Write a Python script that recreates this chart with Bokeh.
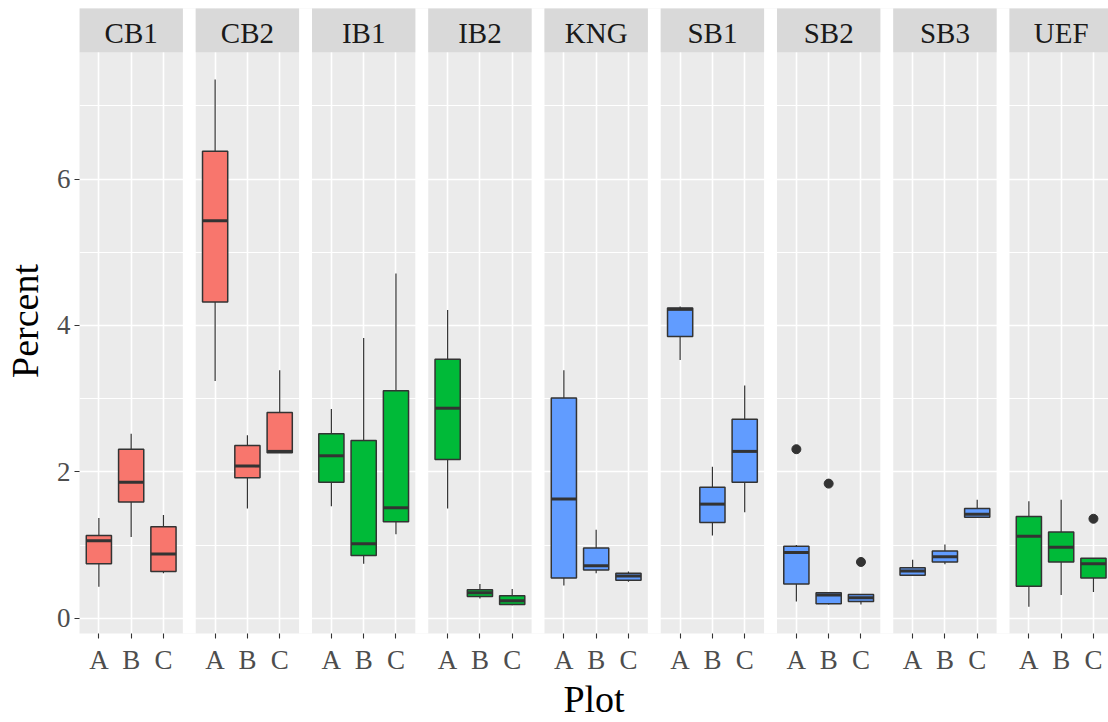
from bokeh.plotting import figure
from bokeh.models import Range1d, FixedTicker, ColumnDataSource
from bokeh.core.properties import value
from bokeh.embed import file_html
from bokeh.resources import INLINE

# ---------------- data ----------------
facets = ["CB1", "CB2", "IB1", "IB2", "KNG", "SB1", "SB2", "SB3", "UEF"]
groups = ["A", "B", "C"]
facet_type = ["CB", "CB", "IB", "IB", "SB", "SB", "SB", "SB", "IB"]

ymin = [0.43, 1.11, 0.615,  3.24, 1.50, 2.26,  1.53, 0.745, 1.15,
        1.50, 0.27, 0.18,  0.45, 0.615, 0.50,  3.53, 1.13, 1.45,
        0.23, 0.19, 0.19,  0.59, 0.74, 1.38,  0.16, 0.32, 0.36]
lower = [0.745, 1.59, 0.64,  4.32, 1.92, 2.26,  1.86, 0.86, 1.32,
         2.17, 0.30, 0.19,  0.55, 0.66, 0.52,  3.85, 1.31, 1.86,
         0.47, 0.20, 0.23,  0.59, 0.77, 1.38,  0.44, 0.77, 0.55]
middle = [1.06, 1.86, 0.88,  5.43, 2.08, 2.28,  2.22, 1.02, 1.51,
          2.87, 0.35, 0.24,  1.63, 0.72, 0.58,  4.22, 1.56, 2.28,
          0.90, 0.32, 0.28,  0.645, 0.84, 1.42,  1.12, 0.97, 0.745]
upper = [1.13, 2.31, 1.25,  6.38, 2.36, 2.81,  2.52, 2.43, 3.11,
         3.54, 0.39, 0.31,  3.01, 0.96, 0.615,  4.24, 1.79, 2.72,
         0.985, 0.35, 0.325,  0.69, 0.92, 1.50,  1.39, 1.18, 0.82]
ymax = [1.37, 2.52, 1.41,  7.36, 2.50, 3.39,  2.86, 3.83, 4.71,
        4.21, 0.47, 0.40,  3.39, 1.21, 0.64,  4.26, 2.07, 3.18,
        1.00, 0.35, 0.325,  0.80, 1.01, 1.62,  1.60, 1.62, 0.82]

out_facet = ["SB2", "SB2", "SB2", "UEF"]
out_group = ["A", "B", "C", "C"]
out_value = [2.31, 1.84, 0.77, 1.36]

y_ticks = [0, 2, 4, 6]

# ---------------- layout helpers ----------------
PERIOD = 36      # facet period in x units
PANEL = 32       # panel width in x units
CAT = 10         # category spacing
OFF = 6          # first category offset inside a panel
BOXW = 7.8
palette = {"CB": "#F8766D", "IB": "#00BA38", "SB": "#619CFF"}
FONT = "Liberation Serif"

def xpos(facet, group):
    return facets.index(facet) * PERIOD + OFF + groups.index(group) * CAT

xs, colors = [], []
for f in facets:
    for g in groups:
        xs.append(xpos(f, g))
        colors.append(palette[facet_type[facets.index(f)]])

src = ColumnDataSource(dict(x=xs, ymin=ymin, lower=lower, middle=middle,
                            upper=upper, ymax=ymax, color=colors,
                            mx0=[x - BOXW / 2 for x in xs],
                            mx1=[x + BOXW / 2 for x in xs]))

PANEL_TOP = 7.733
Y0, Y1 = -0.207, 8.329

p = figure(width=1108, height=722, output_backend="svg", toolbar_location=None,
           x_range=Range1d(0, 318.66), y_range=Range1d(Y0, Y1),
           min_border_left=75, min_border_right=0, min_border_top=8,
           min_border_bottom=84)
p.background_fill_color = "#EBEBEB"
p.border_fill_color = "white"
p.outline_line_color = None

# grid
p.ygrid.ticker = FixedTicker(ticks=y_ticks, minor_ticks=[1, 3, 5, 7])
p.ygrid.grid_line_color = "white"
p.ygrid.grid_line_width = 1.6
p.ygrid.minor_grid_line_color = "white"
p.ygrid.minor_grid_line_width = 1.0
p.xgrid.ticker = FixedTicker(ticks=xs, minor_ticks=[])
p.xgrid.grid_line_color = "white"
p.xgrid.grid_line_width = 1.6

# white gaps between panels
gap_left = [i * PERIOD + PANEL for i in range(len(facets) - 1)]
p.quad(left=gap_left, right=[g + (PERIOD - PANEL) for g in gap_left],
       bottom=Y0 - 1, top=Y1 + 1, fill_color="white", line_color=None)

# strips
strip_left = [i * PERIOD for i in range(len(facets))]
p.quad(left=strip_left, right=[s + PANEL for s in strip_left],
       bottom=PANEL_TOP, top=Y1 + 1, fill_color="#D9D9D9", line_color=None)
p.text(x=[s + PANEL / 2 for s in strip_left], y=[8.0] * len(facets), text=facets,
       text_align="center", text_baseline="middle", text_color="#1A1A1A",
       text_font=value(FONT), text_font_size="29px")

# boxplots
p.segment(x0="x", y0="ymin", x1="x", y1="ymax", source=src,
          line_color="#333333", line_width=1.2)
p.vbar(x="x", width=BOXW, bottom="lower", top="upper", source=src,
       fill_color="color", line_color="#333333", line_width=1.5)
p.segment(x0="mx0", y0="middle", x1="mx1", y1="middle", source=src,
          line_color="#333333", line_width=3)
p.scatter(x=[xpos(f, g) for f, g in zip(out_facet, out_group)], y=out_value,
          size=9, fill_color="#333333", line_color="#333333")

# axes
p.yaxis.ticker = FixedTicker(ticks=y_ticks, minor_ticks=[])
p.xaxis.ticker = FixedTicker(ticks=xs, minor_ticks=[])
p.xaxis.major_label_overrides = {x: groups[k % 3] for k, x in enumerate(xs)}
for ax in (p.xaxis[0], p.yaxis[0]):
    ax.axis_line_color = None
    ax.major_tick_line_color = "#333333"
    ax.major_tick_line_width = 1.1
    ax.major_tick_out = 5
    ax.major_tick_in = 0
    ax.minor_tick_line_color = None
    ax.major_label_text_font = FONT
    ax.major_label_text_font_size = "27px"
    ax.major_label_text_color = "#4D4D4D"
    ax.axis_label_text_font = FONT
    ax.axis_label_text_font_size = "38px"
    ax.axis_label_text_font_style = "normal"
    ax.axis_label_text_color = "black"
p.xaxis.axis_label = "Plot"
p.yaxis.axis_label = "Percent"
p.xaxis.major_label_standoff = 6
p.xaxis.axis_label_standoff = 0
p.yaxis.major_label_standoff = 4
p.yaxis.axis_label_standoff = 8

open("out.html", "w").write(file_html(p, INLINE))
